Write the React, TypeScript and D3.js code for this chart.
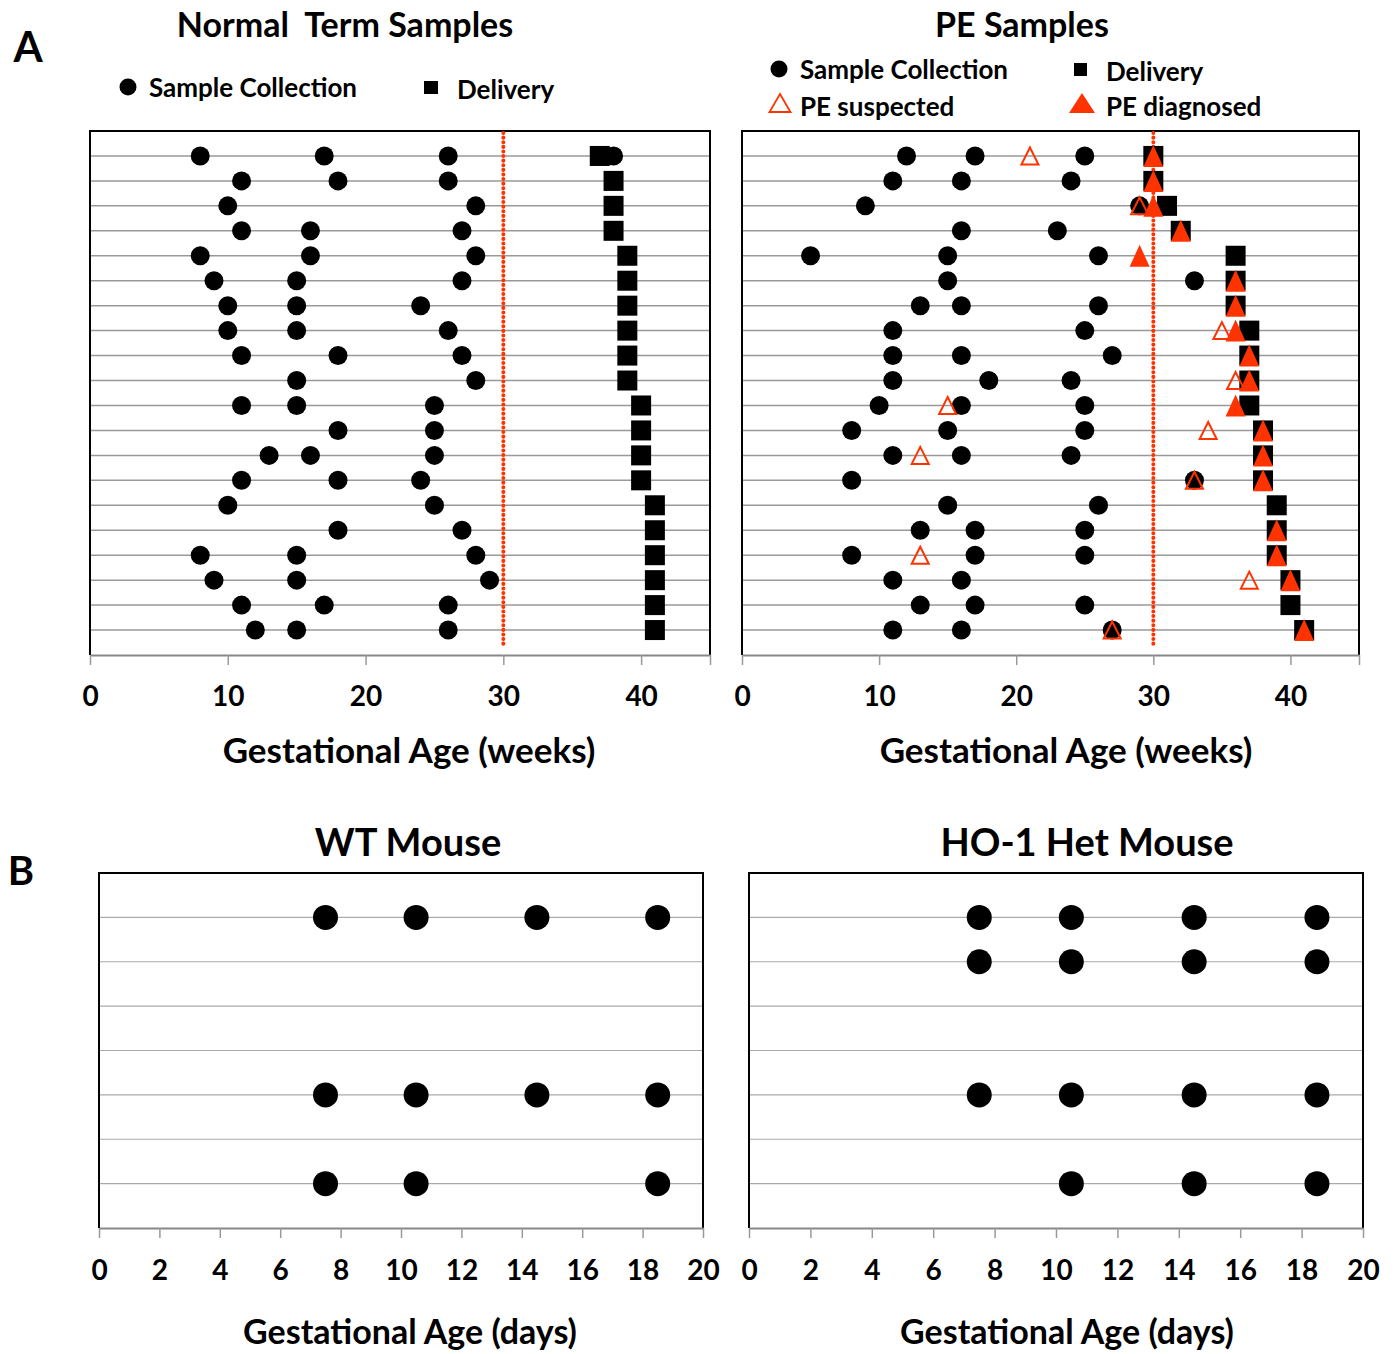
import React, { useEffect, useRef } from "react";
import * as d3 from "d3";

// ---- data ----
// Panel A, normal term: sample collection weeks per subject (top to bottom)
const normalCollection: number[][] = [
  [8, 17, 26, 38],
  [11, 18, 26],
  [10, 28],
  [11, 16, 27],
  [8, 16, 28],
  [9, 15, 27],
  [10, 15, 24],
  [10, 15, 26],
  [11, 18, 27],
  [15, 28],
  [11, 15, 25],
  [18, 25],
  [13, 16, 25],
  [11, 18, 24],
  [10, 25],
  [18, 27],
  [8, 15, 28],
  [9, 15, 29],
  [11, 17, 26],
  [12, 15, 26],
];
const normalDelivery = [37, 38, 38, 38, 39, 39, 39, 39, 39, 39, 40, 40, 40, 40, 41, 41, 41, 41, 41, 41];

// Panel A, PE
const peCollection: number[][] = [
  [12, 17, 25],
  [11, 16, 24],
  [9, 29],
  [16, 23],
  [5, 15, 26],
  [15, 33],
  [13, 16, 26],
  [11, 25],
  [11, 16, 27],
  [11, 18, 24],
  [10, 16, 25],
  [8, 15, 25],
  [11, 16, 24],
  [8, 33],
  [15, 26],
  [13, 17, 25],
  [8, 17, 25],
  [11, 16],
  [13, 17, 25],
  [11, 16, 27],
];
const peDelivery = [30, 30, 31, 32, 36, 36, 36, 37, 37, 37, 37, 38, 38, 38, 39, 39, 39, 40, 40, 41];
const peSuspected: number[][] = [
  [21], [], [29], [], [], [], [], [35], [], [36],
  [15], [34], [13], [33], [], [], [13], [37], [], [27],
];
const peDiagnosed: (number | null)[] = [
  30, 30, 30, 32, 29, 36, 36, 36, 37, 37, 36, 38, 38, 38, null, 39, 39, 40, null, 41,
];
const peCutoff = 30;

// Panel B, mice: sampling days per animal row (top to bottom)
const wtDays: number[][] = [
  [7.5, 10.5, 14.5, 18.5],
  [],
  [],
  [],
  [7.5, 10.5, 14.5, 18.5],
  [],
  [7.5, 10.5, 18.5],
];
const hetDays: number[][] = [
  [7.5, 10.5, 14.5, 18.5],
  [7.5, 10.5, 14.5, 18.5],
  [],
  [],
  [7.5, 10.5, 14.5, 18.5],
  [],
  [10.5, 14.5, 18.5],
];

const weekTicks = [0, 10, 20, 30, 40, 45];
const dayTicks = [0, 2, 4, 6, 8, 10, 12, 14, 16, 18, 20];

const FONT = "Lato, 'Open Sans', sans-serif";
const RED = "#ff3300";

const W = 1397;
const H = 1354;

const triPath = (w, h) => `M0,${-h / 2}L${w / 2},${h / 2}L${-w / 2},${h / 2}Z`;

function drawFrame(svg, box, xDomain, nRows, ticks, opts) {
  const x = d3.scaleLinear().domain(xDomain).range([box.x0, box.x1]);
  const y = d3.scaleLinear().domain([0, nRows + 1]).range([box.y0, box.y1]);
  const g = svg.append("g");

  // row lines
  g.selectAll(".row")
    .data(d3.range(1, nRows + 1))
    .enter()
    .append("line")
    .attr("x1", box.x0)
    .attr("x2", box.x1)
    .attr("y1", (d) => y(d))
    .attr("y2", (d) => y(d))
    .attr("stroke", opts.gridColor)
    .attr("stroke-width", opts.gridWidth);

  // frame (top, left, right)
  g.append("path")
    .attr("d", `M${box.x0},${box.y1}V${box.y0}H${box.x1}V${box.y1}`)
    .attr("fill", "none")
    .attr("stroke", "#000")
    .attr("stroke-width", 2);

  const axis = g
    .append("g")
    .attr("transform", `translate(0,${box.y1})`)
    .call(
      d3
        .axisBottom(x)
        .tickValues(ticks)
        .tickSize(10)
        .tickSizeOuter(0)
        .tickPadding(opts.tickPad)
        .tickFormat((d) => (opts.hide.includes(d) ? "" : String(d)))
    );
  axis.select(".domain").attr("stroke", "#888").attr("stroke-width", 2);
  axis.selectAll(".tick line").attr("stroke", "#999").attr("stroke-width", 1.5);
  axis
    .selectAll("text")
    .attr("font-family", FONT)
    .attr("font-weight", 700)
    .attr("font-size", opts.tickFont)
    .attr("fill", "#000");

  return { x, y, g };
}

function dots(g, rows, x, y, r) {
  rows.forEach((vals, i) => {
    g.selectAll(null)
      .data(vals)
      .enter()
      .append("circle")
      .attr("cx", (d) => x(d))
      .attr("cy", y(i + 1))
      .attr("r", r)
      .attr("fill", "#000");
  });
}

function squares(g, vals, x, y, s) {
  g.selectAll(null)
    .data(vals)
    .enter()
    .append("rect")
    .attr("x", (d) => x(d) - s / 2)
    .attr("y", (d, i) => y(i + 1) - s / 2)
    .attr("width", s)
    .attr("height", s)
    .attr("fill", "#000");
}

function cutoffLine(g, x, box, v) {
  g.append("line")
    .attr("x1", x(v))
    .attr("x2", x(v))
    .attr("y1", box.y0 + 2)
    .attr("y2", box.y1 - 10)
    .attr("stroke", RED)
    .attr("stroke-width", 4)
    .attr("stroke-linecap", "round")
    .attr("stroke-dasharray", "0.1,4.5");
}

function text(svg, s, x, y, size, anchor = "middle") {
  svg
    .append("text")
    .attr("x", x)
    .attr("y", y)
    .attr("text-anchor", anchor)
    .attr("dominant-baseline", "central")
    .attr("font-family", FONT)
    .attr("font-weight", 700)
    .attr("font-size", size)
    .attr("fill", "#000")
    .style("white-space", "pre")
    .text(s);
}

export default function App() {
  const ref = useRef<SVGSVGElement>(null);

  useEffect(() => {
    const svg = d3.select(ref.current);
    svg.selectAll("*").remove();

    // panel letters
    text(svg, "A", 28, 46, 42);
    text(svg, "B", 21, 870, 40);

    // ---- normal term ----
    const boxL = { x0: 90, x1: 710, y0: 131, y1: 655 };
    const topOpts = { gridColor: "#999", gridWidth: 1.5, tickPad: 21, tickFont: 28, hide: [45] };
    const nL = drawFrame(svg, boxL, [0, 45], normalCollection.length, weekTicks, topOpts);
    cutoffLine(nL.g, nL.x, boxL, peCutoff);
    dots(nL.g, normalCollection, nL.x, nL.y, 9.5);
    squares(nL.g, normalDelivery, nL.x, nL.y, 20);

    text(svg, "Normal  Term Samples", 345, 23, 34);
    svg.append("circle").attr("cx", 128).attr("cy", 87).attr("r", 8.5).attr("fill", "#000");
    text(svg, "Sample Collection", 149, 87, 26, "start");
    svg.append("rect").attr("x", 424).attr("y", 81).attr("width", 14).attr("height", 13).attr("fill", "#000");
    text(svg, "Delivery", 457, 89, 26, "start");
    text(svg, "Gestational Age (weeks)", 409, 749, 35);

    // ---- PE ----
    const boxR = { x0: 742, x1: 1359, y0: 131, y1: 655 };
    const pe = drawFrame(svg, boxR, [0, 45], peCollection.length, weekTicks, topOpts);
    cutoffLine(pe.g, pe.x, boxR, peCutoff);
    dots(pe.g, peCollection, pe.x, pe.y, 9.5);
    squares(pe.g, peDelivery, pe.x, pe.y, 20);
    peDiagnosed.forEach((d, i) => {
      if (d === null) return;
      pe.g
        .append("path")
        .attr("d", triPath(20, 22))
        .attr("transform", `translate(${pe.x(d)},${pe.y(i + 1)})`)
        .attr("fill", RED);
    });
    peSuspected.forEach((vals, i) => {
      pe.g
        .selectAll(null)
        .data(vals)
        .enter()
        .append("path")
        .attr("d", triPath(17, 17))
        .attr("transform", (d) => `translate(${pe.x(d)},${pe.y(i + 1)})`)
        .attr("fill", "none")
        .attr("stroke", RED)
        .attr("stroke-width", 2);
    });

    text(svg, "PE Samples", 1022, 23, 34);
    svg.append("circle").attr("cx", 779).attr("cy", 69).attr("r", 8.5).attr("fill", "#000");
    text(svg, "Sample Collection", 800, 69, 26, "start");
    svg.append("rect").attr("x", 1074).attr("y", 63).attr("width", 13).attr("height", 13).attr("fill", "#000");
    text(svg, "Delivery", 1106, 71, 26, "start");
    svg
      .append("path")
      .attr("d", triPath(21, 18))
      .attr("transform", "translate(780,103)")
      .attr("fill", "none")
      .attr("stroke", RED)
      .attr("stroke-width", 1.8);
    text(svg, "PE suspected", 800, 106, 26, "start");
    svg.append("path").attr("d", triPath(26, 20)).attr("transform", "translate(1082,103)").attr("fill", RED);
    text(svg, "PE diagnosed", 1106, 106, 26, "start");
    text(svg, "Gestational Age (weeks)", 1066, 749, 35);

    // ---- mice ----
    const botOpts = { gridColor: "#aaa", gridWidth: 1.2, tickPad: 22, tickFont: 28, hide: [] };
    const boxWT = { x0: 99, x1: 703, y0: 873, y1: 1228 };
    const wt = drawFrame(svg, boxWT, [0, 20], wtDays.length, dayTicks, botOpts);
    dots(wt.g, wtDays, wt.x, wt.y, 12.5);
    text(svg, "WT Mouse", 408, 841, 38);
    text(svg, "Gestational Age (days)", 410, 1330, 34);

    const boxHet = { x0: 749, x1: 1363, y0: 873, y1: 1228 };
    const het = drawFrame(svg, boxHet, [0, 20], hetDays.length, dayTicks, botOpts);
    dots(het.g, hetDays, het.x, het.y, 12.5);
    text(svg, "HO-1 Het Mouse", 1087, 841, 38);
    text(svg, "Gestational Age (days)", 1067, 1330, 34);
  }, []);

  return (
    <div style={{ position: "absolute", left: 0, top: 0 }}>
      <svg ref={ref} width={W} height={H} style={{ display: "block", background: "#fff" }}></svg>
    </div>
  );
}
